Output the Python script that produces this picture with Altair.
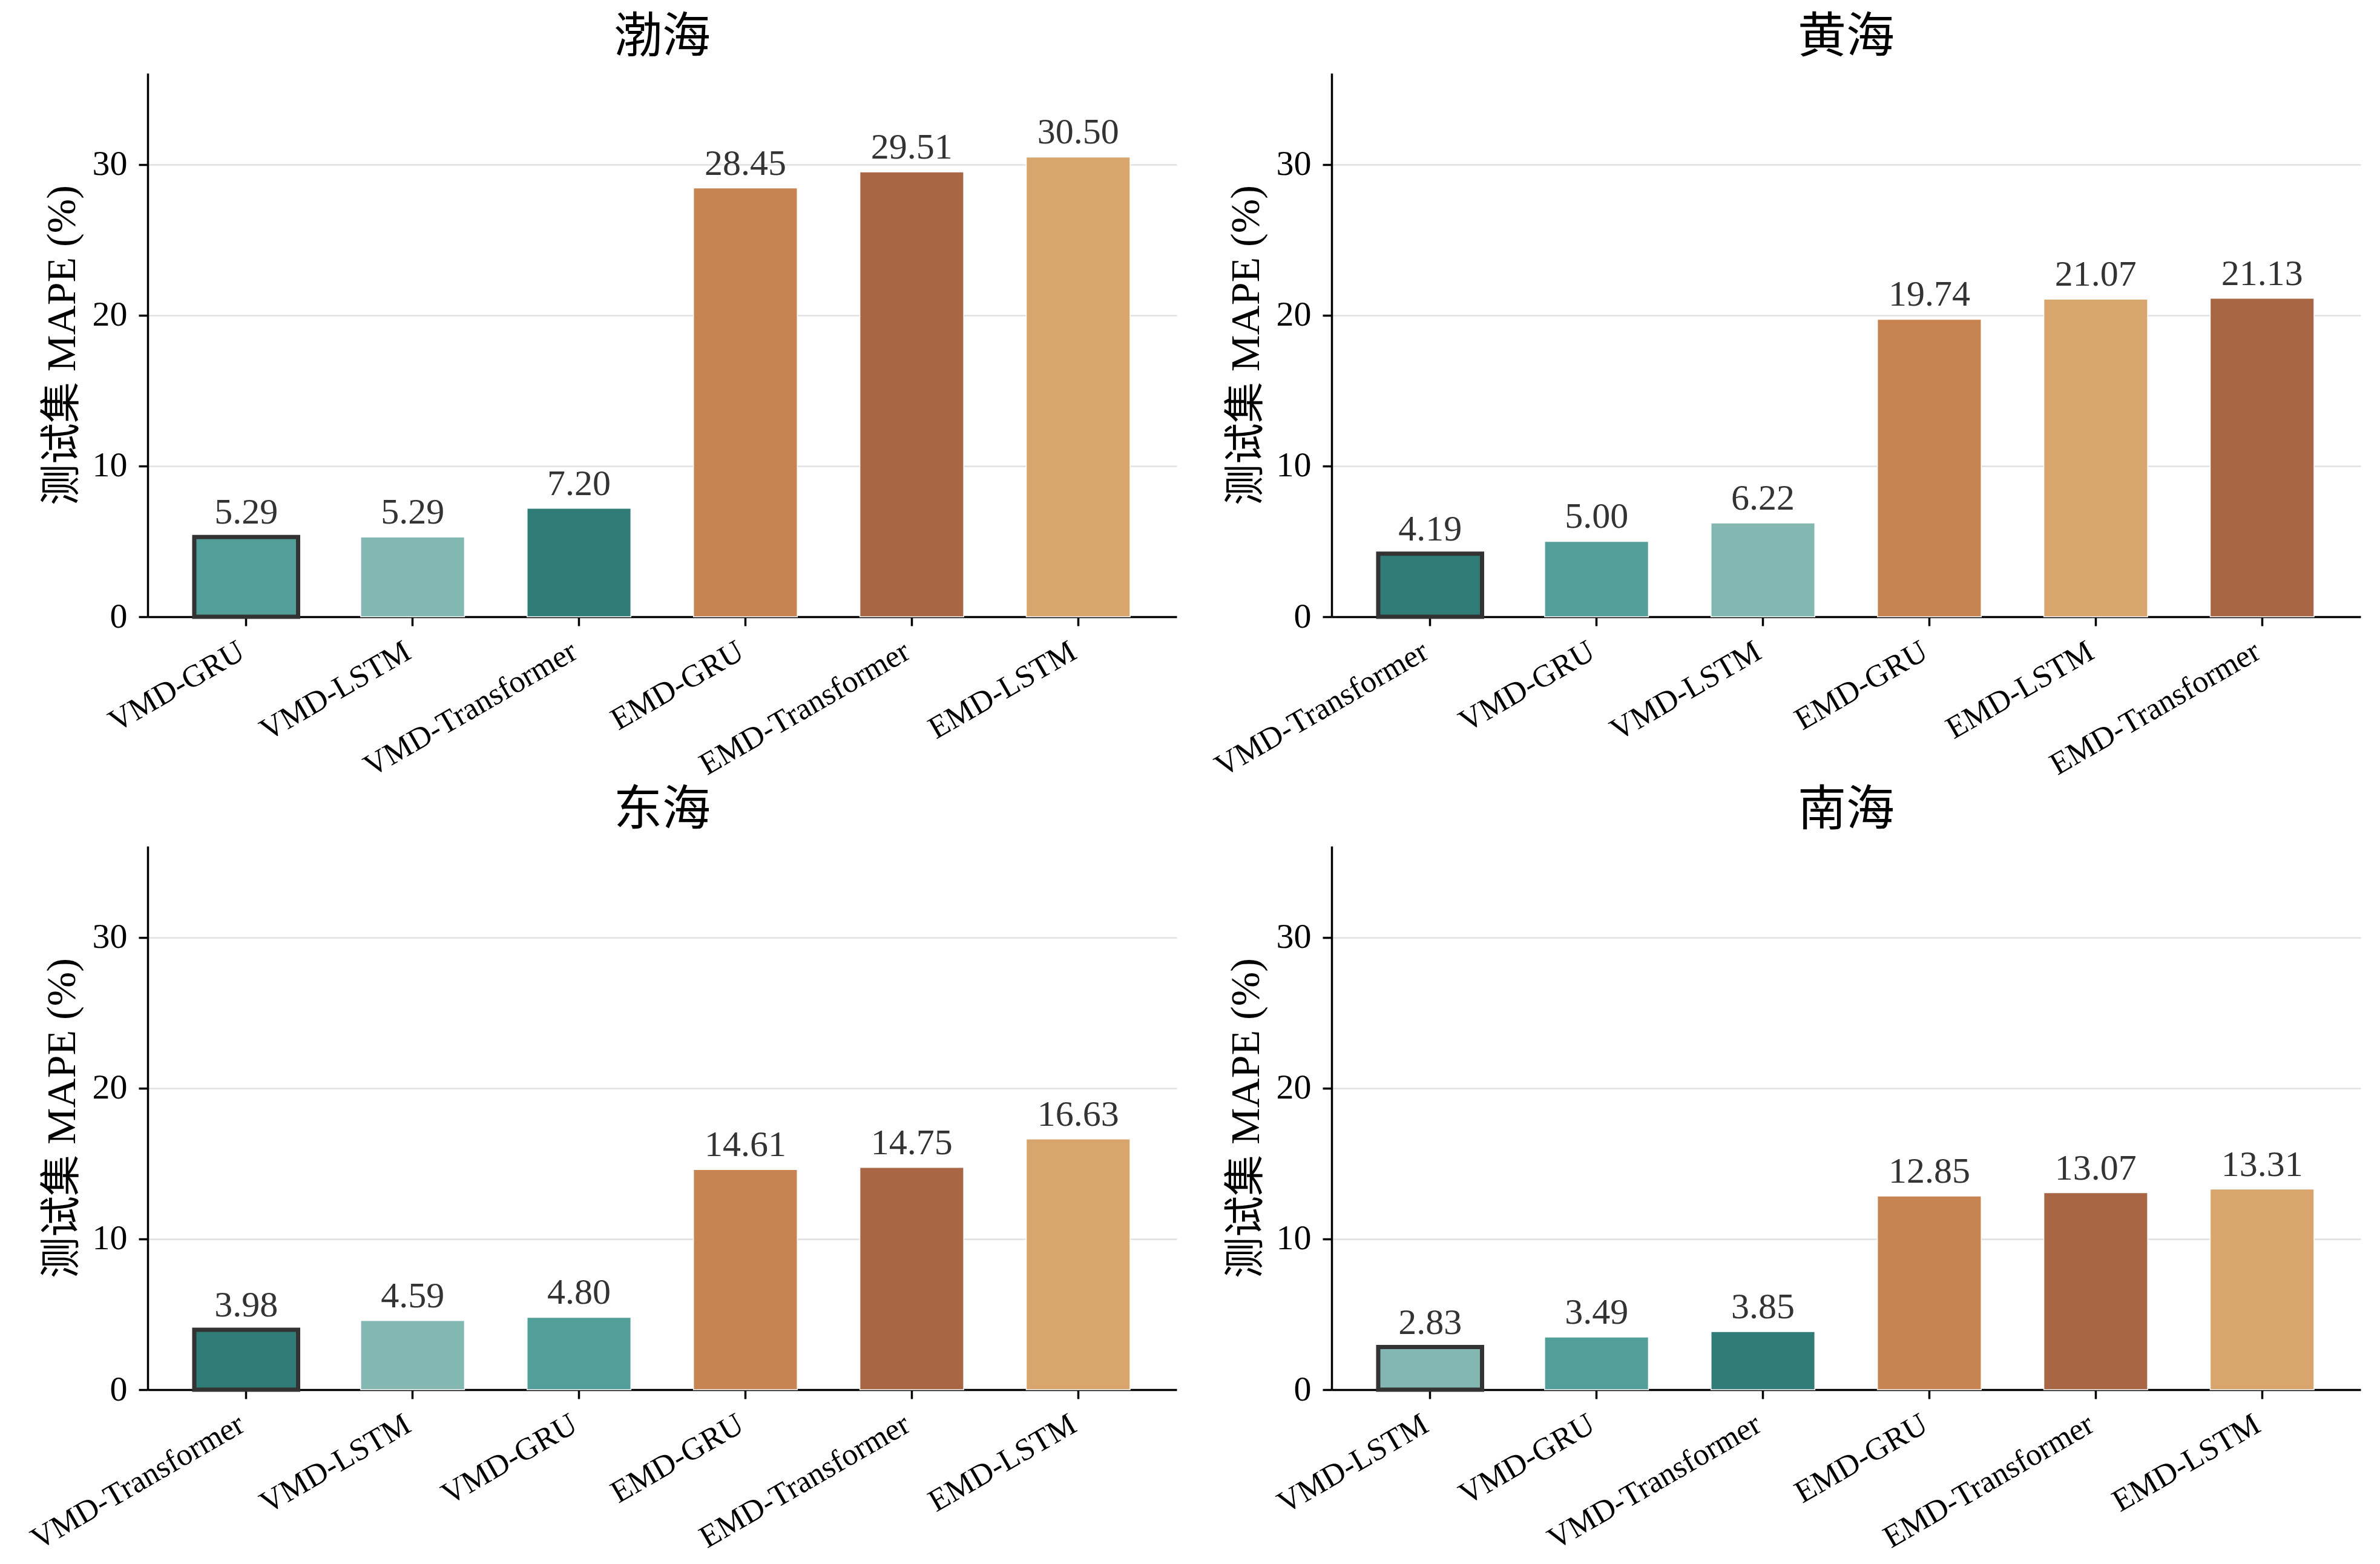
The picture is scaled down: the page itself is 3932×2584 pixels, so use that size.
"""
MAPE comparison of decomposition + deep-learning models across four seas (Altair)
"""
import pandas as pd
import altair as alt

# ---------------------------------------------------------------------------
# Data
# ---------------------------------------------------------------------------
seas = ['渤海', '黄海', '东海', '南海']

bohai_models = ['VMD-GRU', 'VMD-LSTM', 'VMD-Transformer', 'EMD-GRU', 'EMD-Transformer', 'EMD-LSTM']
bohai_mape = [5.29, 5.29, 7.20, 28.45, 29.51, 30.50]

huanghai_models = ['VMD-Transformer', 'VMD-GRU', 'VMD-LSTM', 'EMD-GRU', 'EMD-LSTM', 'EMD-Transformer']
huanghai_mape = [4.19, 5.00, 6.22, 19.74, 21.07, 21.13]

donghai_models = ['VMD-Transformer', 'VMD-LSTM', 'VMD-GRU', 'EMD-GRU', 'EMD-Transformer', 'EMD-LSTM']
donghai_mape = [3.98, 4.59, 4.80, 14.61, 14.75, 16.63]

nanhai_models = ['VMD-LSTM', 'VMD-GRU', 'VMD-Transformer', 'EMD-GRU', 'EMD-Transformer', 'EMD-LSTM']
nanhai_mape = [2.83, 3.49, 3.85, 12.85, 13.07, 13.31]

model_names = ['VMD-GRU', 'VMD-LSTM', 'VMD-Transformer', 'EMD-GRU', 'EMD-Transformer', 'EMD-LSTM']
model_colors = ['#529e98', '#82b8b1', '#2f7d76', '#c88352', '#a86644', '#d8a56c']

FONT = 'Liberation Serif, Noto Sans CJK SC'
Y_MAX = 36.06
PANEL_W = 1700
PANEL_H = 898


def make_panel(sea, models, values):
    df = pd.DataFrame({'model': models, 'mape': values})
    df['best'] = [True] + [False] * (len(models) - 1)

    base = alt.Chart(df).encode(
        x=alt.X('model:N', sort=models,
                scale=alt.Scale(paddingInner=0.376, paddingOuter=0.28),
                axis=alt.Axis(title=None, labelAngle=-30, labelAlign='right',
                              labelBaseline='top', labelPadding=16, labelOffset=-20,
                              labelLimit=0, labelFontSize=52, grid=False)),
        y=alt.Y('mape:Q',
                scale=alt.Scale(domain=[0, Y_MAX], nice=False, zero=True),
                axis=alt.Axis(title='测试集 MAPE (%)', values=[0, 10, 20, 30],
                              grid=True, labelPadding=19, titlePadding=15)),
    )

    bars = base.mark_bar().encode(
        color=alt.Color('model:N', scale=alt.Scale(domain=model_names, range=model_colors),
                        legend=None),
        stroke=alt.when(alt.datum.best).then(alt.value('#333333')).otherwise(alt.value('white')),
        strokeWidth=alt.when(alt.datum.best).then(alt.value(7)).otherwise(alt.value(1.5)),
    )

    labels = base.mark_text(baseline='alphabetic', dy=-22, fontSize=60,
                            font=FONT, color='#333333').encode(
        text=alt.Text('mape:Q', format='.2f')
    )

    return alt.layer(bars, labels).properties(
        width=PANEL_W,
        height=PANEL_H,
        title=alt.TitleParams(sea, fontSize=80, font=FONT, fontWeight='normal',
                              anchor='middle', offset=18, color='black'),
    )


chart = alt.concat(
    make_panel(seas[0], bohai_models, bohai_mape),
    make_panel(seas[1], huanghai_models, huanghai_mape),
    make_panel(seas[2], donghai_models, donghai_mape),
    make_panel(seas[3], nanhai_models, nanhai_mape),
    columns=2,
    bounds='flush',
    spacing={'row': 379, 'column': 256},
).properties(
    padding={'left': 34, 'top': 14, 'right': 5, 'bottom': 5}
).configure_view(
    stroke=None
).configure_axis(
    labelFont=FONT,
    titleFont=FONT,
    labelFontSize=58,
    titleFontSize=68,
    titleFontWeight='normal',
    labelColor='black',
    titleColor='black',
    domainColor='black',
    domainWidth=3.5,
    tickColor='black',
    tickWidth=3.5,
    tickSize=15,
    gridColor='#e0e0e0',
    gridWidth=2.5,
).configure_axisY(
    domain=True
)

chart.save('out.html', embed_options={'renderer': 'svg', 'actions': False})
print('saved out.html')
